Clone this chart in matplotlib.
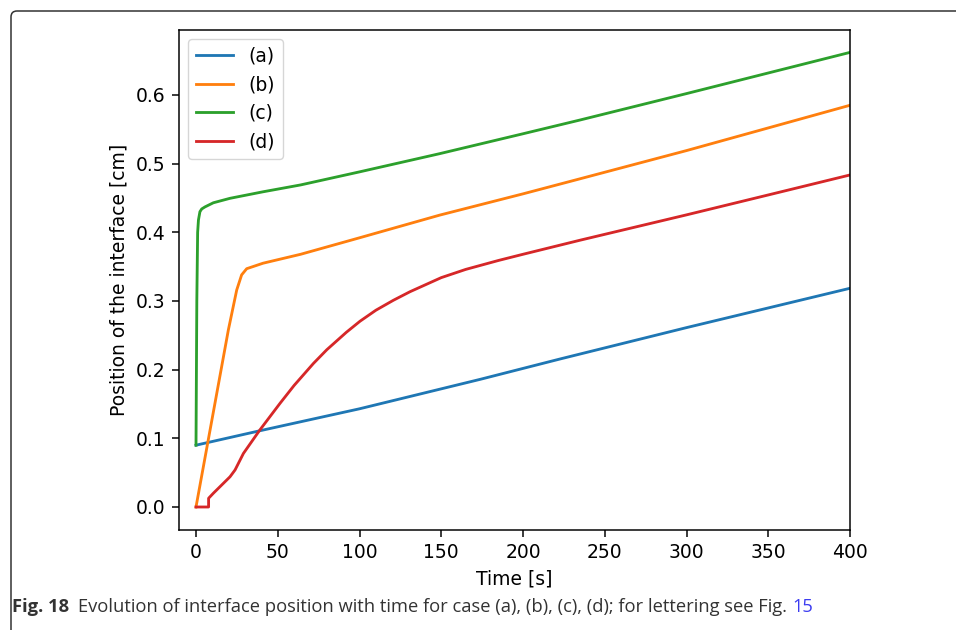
import matplotlib
matplotlib.use("Agg")
import matplotlib.pyplot as plt
from matplotlib.patches import FancyBboxPatch
from matplotlib.transforms import IdentityTransform

# values
t_a = [0, 39, 100, 174, 222.6, 300, 400]
pos_a = [0.090, 0.111, 0.143, 0.186, 0.2155, 0.2612, 0.3185]

t_b = [0, 19.8, 24.9, 27.9, 31, 41, 64, 100, 149, 200, 235, 300, 350, 400]
pos_b = [0.0, 0.258, 0.316, 0.338, 0.347, 0.355, 0.368, 0.392, 0.425, 0.456,
         0.478, 0.519, 0.552, 0.585]

t_c = [0, 0.5, 1.0, 1.5, 2.4, 3.5, 5.5, 10.6, 20.8, 41, 64, 100, 149, 200,
       235, 300, 350, 400]
pos_c = [0.090, 0.300, 0.400, 0.418, 0.430, 0.434, 0.437, 0.443, 0.4495,
         0.459, 0.469, 0.488, 0.5145, 0.5435, 0.5636, 0.602, 0.632, 0.662]

t_d = [0, 7.7, 7.7, 10.6, 20.8, 23.9, 29, 39, 51.4, 60, 71.8, 80, 92, 100.3,
       110, 120.7, 130.9, 150, 165, 185, 200, 234.9, 300, 350, 400]
pos_d = [0.0, 0.0, 0.0127, 0.020, 0.044, 0.054, 0.078, 0.112, 0.151, 0.177,
         0.209, 0.229, 0.2545, 0.2705, 0.2865, 0.301, 0.3135, 0.334, 0.346,
         0.359, 0.368, 0.3885, 0.4254, 0.4544, 0.4835]

labels = ["(a)", "(b)", "(c)", "(d)"]
colors = ["#1f77b4", "#ff7f0e", "#2ca02c", "#d62728"]

s = 1.353  # scale from a default 6.4x4.8 figure
plt.rcParams["font.family"] = "DejaVu Sans"
plt.rcParams["font.size"] = 10 * s
plt.rcParams["axes.linewidth"] = 0.8 * s
plt.rcParams["xtick.major.size"] = 3.5 * s
plt.rcParams["ytick.major.size"] = 3.5 * s
plt.rcParams["xtick.major.width"] = 0.8 * s
plt.rcParams["ytick.major.width"] = 0.8 * s
plt.rcParams["xtick.major.pad"] = 3.5 * s
plt.rcParams["ytick.major.pad"] = 3.5 * s

fig = plt.figure(figsize=(9.56, 6.3), dpi=100)
ax = fig.add_axes([179 / 956, 100 / 630, 671 / 956, 500 / 630])

for t, p, lab, c in zip([t_a, t_b, t_c, t_d], [pos_a, pos_b, pos_c, pos_d],
                        labels, colors):
    ax.plot(t, p, color=c, lw=1.5 * s, label=lab)

ax.set_xlim(-10.4, 400)
ax.set_ylim(-0.0335, 0.6946)
ax.set_xticks(range(0, 401, 50))
ax.set_yticks([0.0, 0.1, 0.2, 0.3, 0.4, 0.5, 0.6])
ax.set_xlabel("Time [s]", labelpad=4 * s)
ax.set_ylabel("Position of the interface [cm]", labelpad=4 * s)
ax.legend(loc="upper left")

# journal frame around the figure
frame = FancyBboxPatch((11, -60), 1100, 630 - 11 + 60,
                       boxstyle="round,pad=0,rounding_size=6",
                       transform=IdentityTransform(), fill=False,
                       edgecolor="#333333", lw=1.1)
fig.patches.append(frame)

# caption
renderer = fig.canvas.get_renderer()
cap_y = 18 / 630
cap_kw = dict(family="Open Sans", fontsize=13.2, color="#333333", va="baseline")
t1 = fig.text(12 / 956, cap_y, "Fig. 18", fontweight="bold", **cap_kw)
x = t1.get_window_extent(renderer).x1 + 9
t2 = fig.text(x / 956, cap_y,
              "Evolution of interface position with time for case (a), (b), (c), (d); "
              "for lettering see Fig.", **cap_kw)
x = t2.get_window_extent(renderer).x1 + 5
cap_kw["color"] = "#3c3cf0"
fig.text(x / 956, cap_y, "15", **cap_kw)

fig.savefig("out.png", dpi=100)
